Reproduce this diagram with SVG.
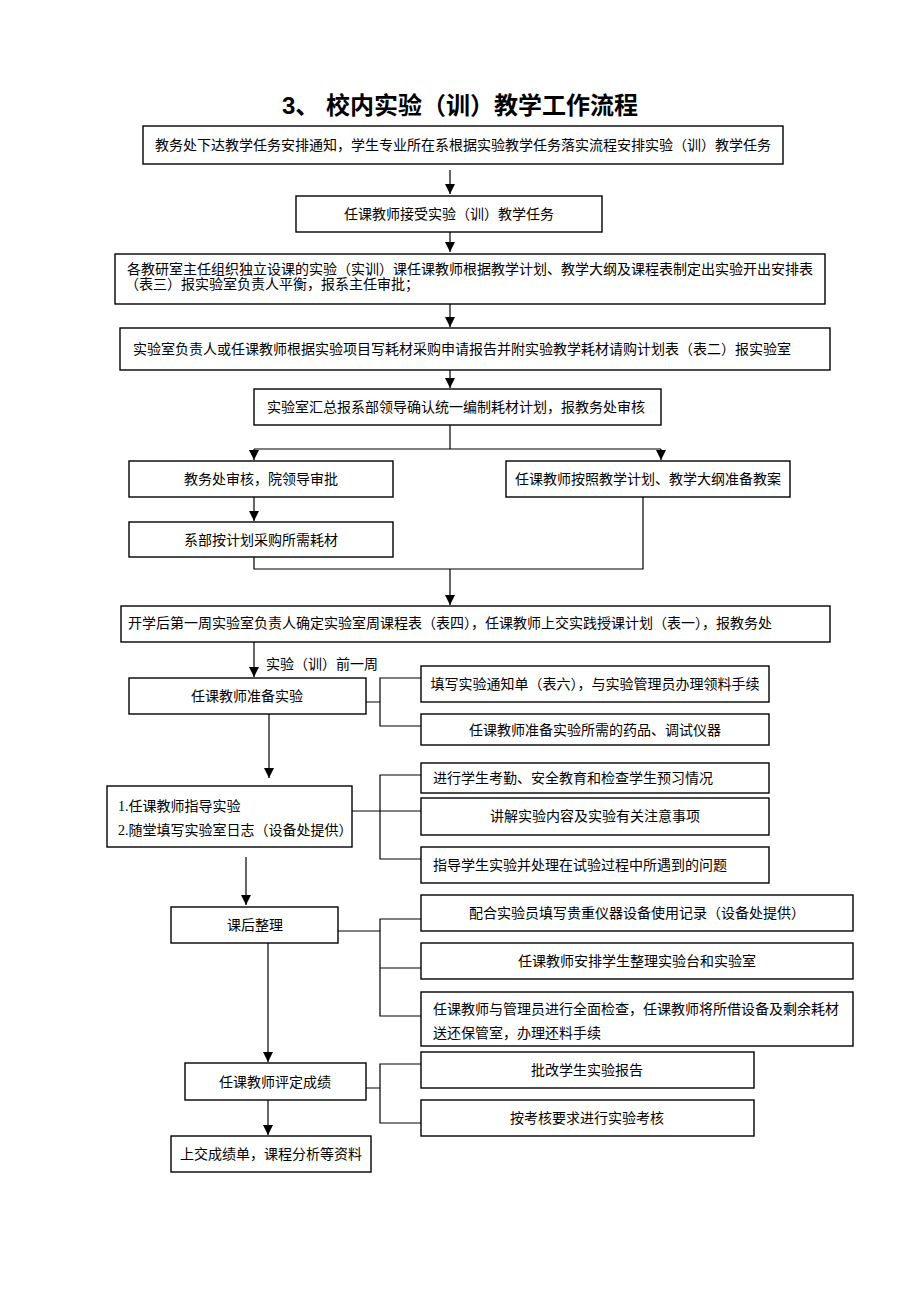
<svg xmlns="http://www.w3.org/2000/svg" width="920" height="1302" viewBox="0 0 920 1302">
<style>
.b{fill:#fff;stroke:#000;stroke-width:1.4}
.t{font-family:"Liberation Serif","Noto Sans CJK SC",serif;font-size:14px;fill:#000}
.c{text-anchor:middle}
.ln{fill:none;stroke:#000;stroke-width:1.2}
.ti{font-family:"Liberation Sans","Noto Sans CJK SC",sans-serif;font-size:24px;font-weight:bold;text-anchor:middle}
</style>
<defs>
<marker id="ah" markerWidth="10" markerHeight="12" refX="10" refY="5" orient="auto" markerUnits="userSpaceOnUse">
<path d="M0,0 L10,5 L0,10 Z" fill="#000"/>
</marker>
</defs>
<rect width="920" height="1302" fill="#fff"/>
<text class="ti" x="460" y="114">3、 校内实验（训）教学工作流程</text>

<g id="connectors">
<path class="ln" d="M450,170 V194" marker-end="url(#ah)"/>
<path class="ln" d="M450,232 V252" marker-end="url(#ah)"/>
<path class="ln" d="M450,304 V327" marker-end="url(#ah)"/>
<path class="ln" d="M450,370 V388" marker-end="url(#ah)"/>
<path class="ln" d="M450,425 V449 M254,449 H661"/>
<path class="ln" d="M254,449 V460" marker-end="url(#ah)"/>
<path class="ln" d="M661,449 V460" marker-end="url(#ah)"/>
<path class="ln" d="M254,497 V521" marker-end="url(#ah)"/>
<path class="ln" d="M254,557 V569 H643 V497"/>
<path class="ln" d="M450,569 V605" marker-end="url(#ah)"/>
<path class="ln" d="M254,642 V677" marker-end="url(#ah)"/>
<path class="ln" d="M366,702 H380 M421,678 H380 V726 H421"/>
<path class="ln" d="M269,714 V778" marker-end="url(#ah)"/>
<path class="ln" d="M352,811 H421 M421,775 H380 V859 H421"/>
<path class="ln" d="M246,857 V905" marker-end="url(#ah)"/>
<path class="ln" d="M338,931 H380 M421,919 H380 V1016 H421 M380,968 H421"/>
<path class="ln" d="M268,943 V1062" marker-end="url(#ah)"/>
<path class="ln" d="M366,1088 H380 M421,1064 H380 V1123 H421"/>
<path class="ln" d="M268,1100 V1135" marker-end="url(#ah)"/>
</g>

<g id="n1"><rect class="b" x="143" y="126" width="640" height="38"/><text class="t c" x="463" y="150">教务处下达教学任务安排通知，学生专业所在系根据实验教学任务落实流程安排实验（训）教学任务</text></g>
<g id="n2"><rect class="b" x="296" y="196" width="306" height="36"/><text class="t c" x="449" y="219">任课教师接受实验（训）教学任务</text></g>
<g id="n3"><rect class="b" x="115" y="254" width="710" height="50"/><text class="t" x="127" y="274">各教研室主任组织独立设课的实验（实训）课任课教师根据教学计划、教学大纲及课程表制定出实验开出安排表</text><text class="t" x="125" y="289">（表三）报实验室负责人平衡，报系主任审批；</text></g>
<g id="n4"><rect class="b" x="120" y="328" width="710" height="42"/><text class="t c" x="462" y="354">实验室负责人或任课教师根据实验项目写耗材采购申请报告并附实验教学耗材请购计划表（表二）报实验室</text></g>
<g id="n5"><rect class="b" x="254" y="389" width="407" height="36"/><text class="t c" x="456" y="412">实验室汇总报系部领导确认统一编制耗材计划，报教务处审核</text></g>
<g id="n6"><rect class="b" x="129" y="461" width="264" height="36"/><text class="t c" x="261" y="484">教务处审核，院领导审批</text></g>
<g id="n7"><rect class="b" x="506" y="461" width="284" height="36"/><text class="t c" x="648" y="484">任课教师按照教学计划、教学大纲准备教案</text></g>
<g id="n8"><rect class="b" x="129" y="522" width="264" height="35"/><text class="t c" x="261" y="545">系部按计划采购所需耗材</text></g>
<g id="n9"><rect class="b" x="121" y="606" width="709" height="36"/><text class="t c" x="450" y="628">开学后第一周实验室负责人确定实验室周课程表（表四），任课教师上交实践授课计划（表一），报教务处</text></g>
<text class="t" x="266" y="669">实验（训）前一周</text>
<g id="n10"><rect class="b" x="129" y="678" width="237" height="36"/><text class="t c" x="247" y="701">任课教师准备实验</text></g>
<g id="n11"><rect class="b" x="421" y="666" width="348" height="36"/><text class="t c" x="595" y="689">填写实验通知单（表六），与实验管理员办理领料手续</text></g>
<g id="n12"><rect class="b" x="421" y="714" width="348" height="31"/><text class="t c" x="595" y="735">任课教师准备实验所需的药品、调试仪器</text></g>
<g id="n13"><rect class="b" x="107" y="786" width="245" height="61"/><text class="t" x="118" y="811">1.任课教师指导实验</text><text class="t" x="118" y="835">2.随堂填写实验室日志（设备处提供）</text></g>
<g id="n14"><rect class="b" x="421" y="763" width="348" height="30"/><text class="t" x="433" y="783">进行学生考勤、安全教育和检查学生预习情况</text></g>
<g id="n15"><rect class="b" x="421" y="798" width="348" height="37"/><text class="t c" x="595" y="821">讲解实验内容及实验有关注意事项</text></g>
<g id="n16"><rect class="b" x="421" y="847" width="348" height="36"/><text class="t" x="433" y="870">指导学生实验并处理在试验过程中所遇到的问题</text></g>
<g id="n17"><rect class="b" x="171" y="907" width="167" height="36"/><text class="t c" x="255" y="930">课后整理</text></g>
<g id="n18"><rect class="b" x="421" y="895" width="432" height="36"/><text class="t c" x="637" y="918">配合实验员填写贵重仪器设备使用记录（设备处提供）</text></g>
<g id="n19"><rect class="b" x="421" y="943" width="432" height="36"/><text class="t c" x="637" y="966">任课教师安排学生整理实验台和实验室</text></g>
<g id="n20"><rect class="b" x="421" y="992" width="432" height="54"/><text class="t" x="433" y="1014">任课教师与管理员进行全面检查，任课教师将所借设备及剩余耗材</text><text class="t" x="433" y="1038">送还保管室，办理还料手续</text></g>
<g id="n21"><rect class="b" x="185" y="1063" width="181" height="37"/><text class="t c" x="275" y="1087">任课教师评定成绩</text></g>
<g id="n22"><rect class="b" x="421" y="1052" width="333" height="36"/><text class="t c" x="587" y="1075">批改学生实验报告</text></g>
<g id="n23"><rect class="b" x="421" y="1100" width="333" height="36"/><text class="t c" x="587" y="1123">按考核要求进行实验考核</text></g>
<g id="n24"><rect class="b" x="171" y="1136" width="200" height="36"/><text class="t c" x="271" y="1159">上交成绩单，课程分析等资料</text></g>
</svg>
